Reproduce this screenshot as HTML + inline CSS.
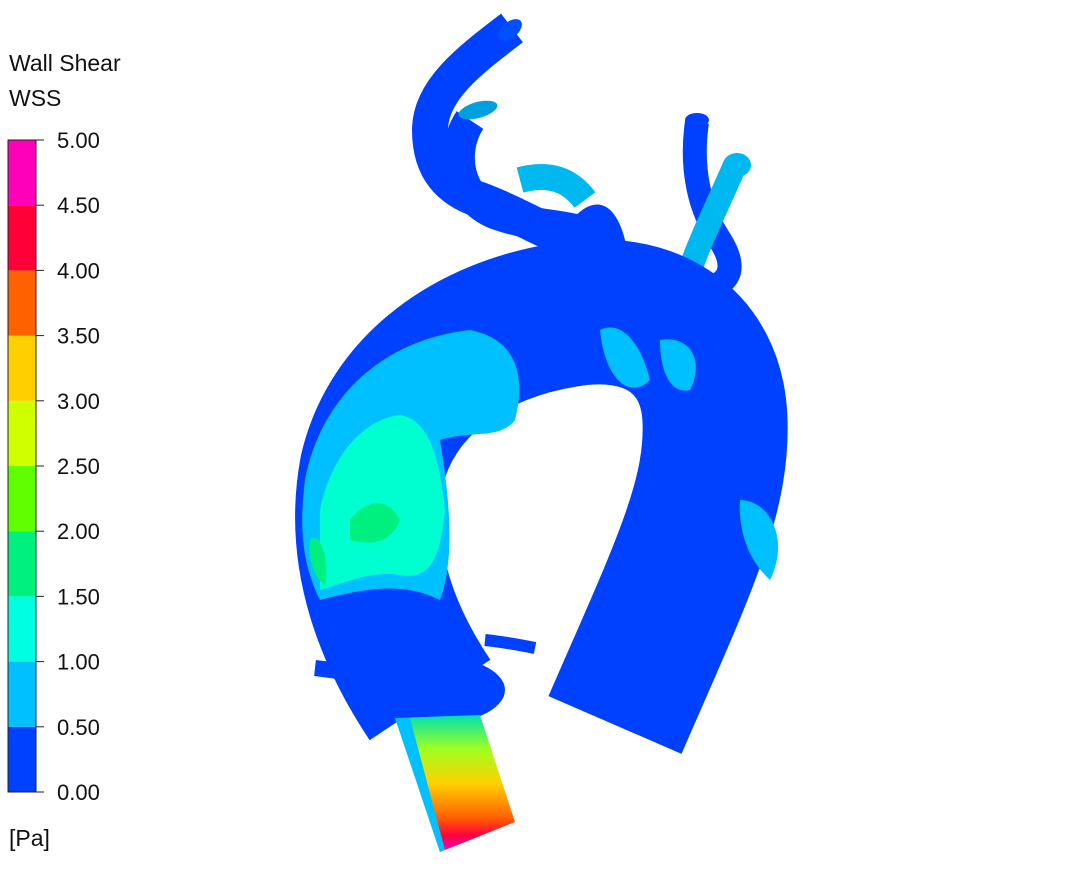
<!DOCTYPE html>
<html><head><meta charset="utf-8">
<style>
html,body{margin:0;padding:0;background:#fff;width:1076px;height:879px;overflow:hidden;font-family:"Liberation Sans",sans-serif;}
svg{display:block}
</style></head>
<body>
<svg id="chart" width="1076" height="879" viewBox="0 0 1076 879">
  <text x="9" y="71" font-size="23" fill="#111">Wall Shear</text>
  <text x="9" y="106" font-size="23" fill="#111">WSS</text>
  <text x="9" y="846" font-size="23" fill="#111">[Pa]</text>
  <g id="legend"></g>

  <g>
    <path d="M512,28 C470,60 430,90 430,130 C430,170 450,190 480,200 C520,215 540,230 560,235" fill="none" stroke="#0040ff" stroke-width="36"/>
    <path d="M470,120 C450,150 455,200 500,215 C530,225 555,225 575,230" fill="none" stroke="#0040ff" stroke-width="32"/>
    <ellipse cx="478" cy="110" rx="20" ry="8" fill="#00a0e0" transform="rotate(-15 478 110)"/>
    <ellipse cx="510" cy="30" rx="14" ry="8" fill="#0050ff" transform="rotate(-40 510 30)"/>
    <path d="M520,180 C550,172 570,180 585,200" fill="none" stroke="#00b8f0" stroke-width="26"/>
    <path d="M697,122 C690,170 700,210 720,240 C745,280 720,295 660,290" fill="none" stroke="#0040ff" stroke-width="24"/>
    <path d="M735,165 C720,200 700,240 690,270 C680,300 660,310 640,300" fill="none" stroke="#00b8f0" stroke-width="24"/>
    <ellipse cx="737" cy="165" rx="14" ry="12" fill="#00b8f0"/>
    <ellipse cx="697" cy="120" rx="12" ry="7" fill="#0040ff"/>
    <path d="M430,700 C390,640 355,560 372,470 C392,385 470,330 565,315 C650,300 712,340 715,420 C718,500 680,575 615,725" fill="none" stroke="#0040ff" stroke-width="145"/>
    <path d="M545,270 C570,200 610,180 625,240 C635,280 600,300 560,300 Z" fill="#0040ff"/>
    <path d="M305,480 C320,400 380,340 470,330 C520,340 525,380 515,420 C500,440 470,430 440,440 C450,500 455,560 440,600 C400,580 360,590 320,600 C300,560 300,520 305,480 Z" fill="#00c0ff"/>
    <path d="M320,510 C330,460 360,420 400,415 C430,420 440,460 445,510 C440,560 430,580 400,575 C370,570 340,585 320,590 Z" fill="#00ffd0"/>
    <path d="M350,520 C370,495 390,500 400,520 C390,545 370,545 350,540 Z M310,540 C320,530 330,560 325,585 C315,580 308,560 310,540 Z" fill="#00f080"/>
    <path d="M600,330 C620,320 640,340 650,380 C630,400 605,380 600,330 Z M660,340 C690,335 705,360 690,390 C670,395 660,370 660,340 Z" fill="#00c0ff"/>
    <path d="M740,500 C770,500 790,540 770,580 C748,560 738,530 740,500 Z" fill="#00c0ff"/>
    <path d="M315,668 C350,672 380,678 400,680" fill="none" stroke="#0040ff" stroke-width="16"/>
    <path d="M485,640 C505,642 520,645 535,648" fill="none" stroke="#0040ff" stroke-width="12"/>
    <ellipse cx="430" cy="690" rx="75" ry="35" fill="#0040ff"/>
    <defs>
      <linearGradient id="inletGrad" x1="0" y1="0" x2="0" y2="1">
        <stop offset="0" stop-color="#00e0b0"/>
        <stop offset="0.25" stop-color="#a0ff20"/>
        <stop offset="0.5" stop-color="#ffd000"/>
        <stop offset="0.75" stop-color="#ff6000"/>
        <stop offset="0.88" stop-color="#ff0040"/>
        <stop offset="1" stop-color="#ff00c0"/>
      </linearGradient>
    </defs>
    <path d="M395,718 L480,715 L515,822 L440,852 Z" fill="url(#inletGrad)"/>
    <path d="M395,718 L410,718 L445,850 L440,852 Z" fill="#00c0ff"/>
  </g>
</svg>
<script>
const legendTicks = [0, 0.5, 1, 1.5, 2, 2.5, 3, 3.5, 4, 4.5, 5];
const legendColors = ["#0040ff","#00c0ff","#00ffe0","#00f080","#60ff00","#d0ff00","#ffd000","#ff6000","#ff0038","#ff00b8"];
const NS = "http://www.w3.org/2000/svg";
const g = document.getElementById("legend");
const yTop = 140, yBot = 792, x0 = 8, x1 = 36;
const vmin = legendTicks[0], vmax = legendTicks[legendTicks.length-1];
function yScale(v){ return yBot - (v - vmin) / (vmax - vmin) * (yBot - yTop); }
legendColors.forEach((c, i) => {
  const r = document.createElementNS(NS, "rect");
  const ya = yScale(legendTicks[i+1]), yb = yScale(legendTicks[i]);
  r.setAttribute("x", x0); r.setAttribute("y", ya);
  r.setAttribute("width", x1 - x0); r.setAttribute("height", yb - ya);
  r.setAttribute("fill", c);
  
  
  g.appendChild(r);
});
const border = document.createElementNS(NS, "rect");
border.setAttribute("x", x0); border.setAttribute("y", yTop);
border.setAttribute("width", x1 - x0); border.setAttribute("height", yBot - yTop);
border.setAttribute("fill", "none"); border.setAttribute("stroke", "#222"); border.setAttribute("stroke-width", "1");


g.appendChild(border);
legendTicks.forEach(v => {
  const y = yScale(v);
  const l = document.createElementNS(NS, "line");
  l.setAttribute("x1", x1); l.setAttribute("x2", x1 + 8);
  l.setAttribute("y1", y); l.setAttribute("y2", y);
  l.setAttribute("stroke", "#222"); l.setAttribute("stroke-width", "1");
  
  
  g.appendChild(l);
  const t = document.createElementNS(NS, "text");
  t.setAttribute("x", 57); t.setAttribute("y", y + 8);
  t.setAttribute("font-size", "22"); t.setAttribute("fill", "#111");
  t.textContent = v.toFixed(2);
  
  
  g.appendChild(t);
});
</script>
</body></html>
